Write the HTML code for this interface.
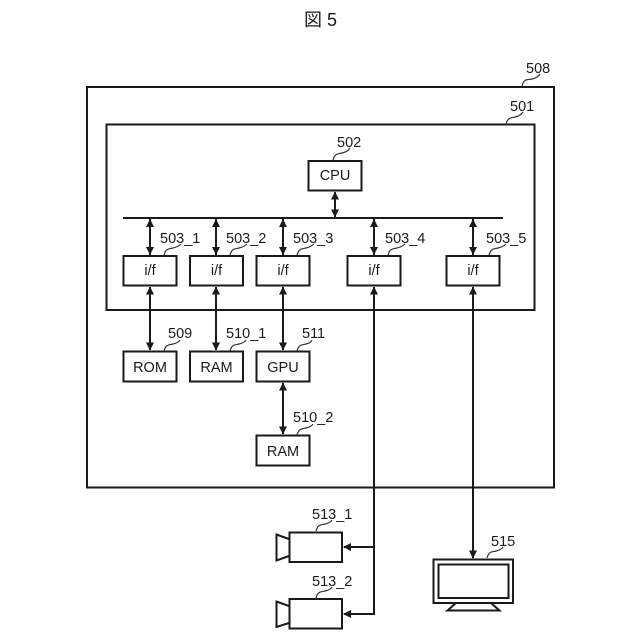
<!DOCTYPE html>
<html><head><meta charset="utf-8"><style>
html,body{margin:0;padding:0;background:#fff}
svg{display:block}
text{font-family:"Liberation Sans",Arial,sans-serif;font-size:14.5px;fill:#1a1a1a}
.b{fill:none;stroke:#1a1a1a;stroke-width:2}
.l{fill:none;stroke:#1a1a1a;stroke-width:2}
.c{fill:none;stroke:#333;stroke-width:1.2}
.t{text-anchor:middle}
</style></head><body>
<svg width="640" height="640" viewBox="0 0 640 640" xmlns="http://www.w3.org/2000/svg">
<defs>
<g id="au"><path d="M0 0l-4 8h8z" fill="#1a1a1a"/></g>
<g id="ad"><path d="M0 0l-4 -8h8z" fill="#1a1a1a"/></g>
</defs>
<text x="320.5" y="26" class="t" style="font-family:'Liberation Sans','Noto Sans CJK JP',sans-serif;font-size:18px">図 5</text>

<rect x="87" y="87" width="467" height="400.5" class="b" stroke-width="2"/>
<rect x="106.5" y="124.5" width="428" height="185.5" class="b"/>
<rect x="308.5" y="161" width="53" height="29.5" class="b"/>
<path d="M123 218H503" class="l"/>

<rect x="123.5" y="256" width="53" height="29.5" class="b"/>
<rect x="190" y="256" width="53" height="29.5" class="b"/>
<rect x="256.5" y="256" width="53" height="29.5" class="b"/>
<rect x="347.5" y="256" width="53" height="29.5" class="b"/>
<rect x="446.5" y="256" width="53" height="29.5" class="b"/>
<rect x="123.5" y="351.5" width="53" height="30" class="b"/>
<rect x="190" y="351.5" width="53" height="30" class="b"/>
<rect x="256.5" y="351.5" width="53" height="30" class="b"/>
<rect x="256.5" y="435.5" width="53" height="30" class="b"/>

<!-- connectors -->
<path d="M335 192V217M150 219V255M216 219V255M283 219V255M374 219V255M473 219V255M150 287V350M216 287V350M283 287V350M283 383V434M473 287V558M374 287V614H344M374 547H344" class="l"/>
<g>
<use href="#au" x="335" y="191.5"/><use href="#ad" x="335" y="217.5"/>
<use href="#au" x="150" y="219"/><use href="#au" x="216" y="219"/><use href="#au" x="283" y="219"/><use href="#au" x="374" y="219"/><use href="#au" x="473" y="219"/>
<use href="#ad" x="150" y="255"/><use href="#ad" x="216" y="255"/><use href="#ad" x="283" y="255"/><use href="#ad" x="374" y="255"/><use href="#ad" x="473" y="255"/>
<use href="#au" x="150" y="286.5"/><use href="#au" x="216" y="286.5"/><use href="#au" x="283" y="286.5"/><use href="#au" x="374" y="286.5"/><use href="#au" x="473" y="286.5"/>
<use href="#ad" x="150" y="350.5"/><use href="#ad" x="216" y="350.5"/><use href="#ad" x="283" y="350.5"/>
<use href="#au" x="283" y="382.5"/><use href="#ad" x="283" y="434.5"/>
<use href="#ad" x="473" y="558.5"/>
<path d="M343 547l8-4v8zM343 614l8-4v8z" fill="#1a1a1a"/>
</g>

<!-- box labels -->
<text x="335" y="180" class="t">CPU</text>
<text x="150" y="275" class="t">i/f</text>
<text x="216.5" y="275" class="t">i/f</text>
<text x="283" y="275" class="t">i/f</text>
<text x="374" y="275" class="t">i/f</text>
<text x="473" y="275" class="t">i/f</text>
<text x="150" y="372" class="t">ROM</text>
<text x="216.5" y="372" class="t">RAM</text>
<text x="283" y="372" class="t">GPU</text>
<text x="283" y="456" class="t">RAM</text>

<!-- reference labels -->
<text x="526" y="73">508</text>
<text x="510" y="111">501</text>
<text x="337" y="147">502</text>
<text x="160" y="243">503_1</text>
<text x="226" y="243">503_2</text>
<text x="293" y="243">503_3</text>
<text x="385" y="243">503_4</text>
<text x="486" y="243">503_5</text>
<text x="168" y="338">509</text>
<text x="226" y="338">510_1</text>
<text x="302" y="338">511</text>
<text x="293" y="422">510_2</text>
<text x="312" y="519">513_1</text>
<text x="312" y="586">513_2</text>
<text x="491" y="546">515</text>

<!-- leader squiggles -->
<path class="c" d="M522 86c2-8 6-6 10-7s6-2 8-5"/>
<path class="c" d="M506 124c2-7 5-6 9-7s6-2 8-5"/>
<path class="c" d="M333 160c2-7 5-6 9-7s6-2 8-5"/>
<path class="c" d="M164 255c2-7 5-6 9-7s6-2 8-4"/>
<path class="c" d="M230 255c2-7 5-6 9-7s6-2 8-4"/>
<path class="c" d="M297 255c2-7 5-6 9-7s6-2 8-4"/>
<path class="c" d="M388 255c2-7 5-6 9-7s6-2 8-4"/>
<path class="c" d="M489 255c2-7 5-6 9-7s6-2 8-4"/>
<path class="c" d="M164 351c2-7 5-6 9-7s6-2 7-4"/>
<path class="c" d="M230 351c2-7 5-6 9-7s6-2 7-4"/>
<path class="c" d="M297 351c2-7 5-6 9-7s5-2 6-4"/>
<path class="c" d="M297 435c2-7 5-6 9-7s6-2 7-4"/>
<path class="c" d="M316 531c2-7 5-6 9-7s6-2 7-4"/>
<path class="c" d="M316 598c2-7 5-6 9-7s6-2 7-4"/>
<path class="c" d="M487 558c2-7 5-6 9-7s6-2 7-4"/>

<!-- cameras -->
<rect x="289.5" y="532.5" width="52.5" height="29.5" class="b"/>
<path d="M289 539L276.5 534.5V560.5L289 556" class="b"/>
<rect x="289.5" y="599" width="52.5" height="29.5" class="b"/>
<path d="M289 606L276.5 601.5V627L289 623" class="b"/>

<!-- monitor -->
<rect x="433.5" y="559.5" width="79.5" height="43.5" class="b"/>
<rect x="438.5" y="564.5" width="70" height="33.5" class="b"/>
<path d="M456 603L447.5 610.5H499.5L491 603" class="b"/>
</svg>
</body></html>
